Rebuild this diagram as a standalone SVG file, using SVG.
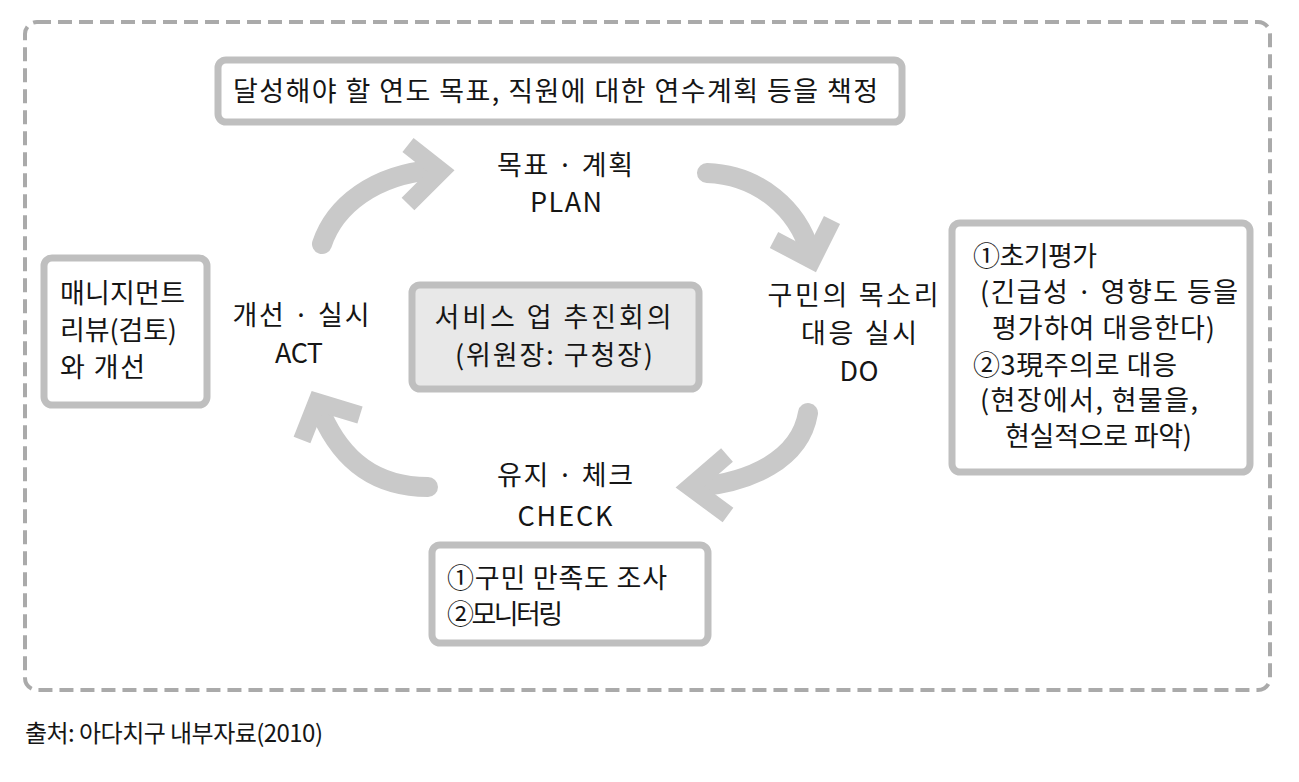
<svg xmlns="http://www.w3.org/2000/svg" width="1299" height="782" viewBox="0 0 1299 782">
<style>
.t{font-family:"Noto Sans CJK KR","Noto Sans",sans-serif;font-size:27px;fill:#151515}
.m{text-anchor:middle}
.box{fill:#fff;stroke:#bfbfbf;stroke-width:7}
.arc{fill:none;stroke:#c9c9c9;stroke-width:20;stroke-linecap:round}
.hd{fill:none;stroke:#c9c9c9;stroke-width:18;stroke-linecap:butt;stroke-linejoin:miter}
</style>
<rect x="0" y="0" width="1299" height="782" fill="#fff"/>
<rect id="frame" x="25" y="22" width="1245" height="668" rx="12" fill="none" stroke="#aaaaaa" stroke-width="4" stroke-dasharray="14 7"/>
<g id="connectors">
<path class="arc" d="M 322 244 C 335 205 375 175 432 170"/>
<polyline class="hd" points="408,145 441,171 408,204"/>
<path class="arc" d="M 707 173 C 760 175 798 210 810 252"/>
<polyline class="hd" points="774,240 812,260 832,220"/>
<path class="arc" d="M 808 413 C 800 460 750 482 698 487"/>
<polyline class="hd" points="727,455 690,487 728,515"/>
<path class="arc" d="M 428 487 C 375 487 342 460 322 415"/>
<polyline class="hd" points="302,440 317,402 360,415"/>
</g>
<g id="goal">
<rect class="box" x="218" y="60" width="684" height="62" rx="8"/>
<text class="t" x="233" y="101" textLength="645" lengthAdjust="spacing">달성해야 할 연도 목표, 직원에 대한 연수계획 등을 책정</text>
</g>
<g id="plan">
<text class="t m" x="565" y="175" textLength="136" lengthAdjust="spacing">목표 · 계획</text>
<text class="t m" x="566" y="212" textLength="72" lengthAdjust="spacing">PLAN</text>
</g>
<g id="do">
<text class="t m" x="853" y="305" textLength="171" lengthAdjust="spacing">구민의 목소리</text>
<text class="t m" x="859" y="343" textLength="116" lengthAdjust="spacing">대응 실시</text>
<text class="t m" x="859" y="381" textLength="39" lengthAdjust="spacing">DO</text>
</g>
<g id="do-detail">
<rect class="box" x="952" y="223" width="298" height="249" rx="8"/>
<text class="t" x="973" y="266" textLength="124" lengthAdjust="spacing">①초기평가</text>
<text class="t" x="980" y="302" textLength="258" lengthAdjust="spacing">(긴급성 · 영향도 등을</text>
<text class="t" x="992" y="338" textLength="223" lengthAdjust="spacing">평가하여 대응한다)</text>
<text class="t" x="973" y="375" textLength="204" lengthAdjust="spacing">②3現주의로 대응</text>
<text class="t" x="980" y="410" textLength="218" lengthAdjust="spacing">(현장에서, 현물을,</text>
<text class="t" x="1005" y="446" textLength="187" lengthAdjust="spacing">현실적으로 파악)</text>
</g>
<g id="act-detail">
<rect class="box" x="44" y="258" width="163" height="147" rx="8"/>
<text class="t" x="60" y="303" textLength="125" lengthAdjust="spacing">매니지먼트</text>
<text class="t" x="60" y="340" textLength="117" lengthAdjust="spacing">리뷰(검토)</text>
<text class="t" x="60" y="377" textLength="85" lengthAdjust="spacing">와 개선</text>
</g>
<g id="act">
<text class="t m" x="301" y="325" textLength="137" lengthAdjust="spacing">개선 · 실시</text>
<text class="t m" x="299" y="363" textLength="48" lengthAdjust="spacing">ACT</text>
</g>
<g id="center">
<rect x="412" y="285" width="287" height="104" rx="8" fill="#e8e8e8" stroke="#bfbfbf" stroke-width="7"/>
<text class="t m" x="553" y="327" textLength="237" lengthAdjust="spacing">서비스 업 추진회의</text>
<text class="t m" x="554" y="365" textLength="198" lengthAdjust="spacing">(위원장: 구청장)</text>
</g>
<g id="check">
<text class="t m" x="565" y="485" textLength="136" lengthAdjust="spacing">유지 · 체크</text>
<text class="t m" x="565" y="526" textLength="95" lengthAdjust="spacing">CHECK</text>
</g>
<g id="check-detail">
<rect class="box" x="432" y="545" width="276" height="98" rx="8"/>
<text class="t" x="447" y="588" textLength="220" lengthAdjust="spacing">①구민 만족도 조사</text>
<text class="t" x="447" y="624" textLength="116" lengthAdjust="spacing">②모니터링</text>
</g>
<text class="t" x="25" y="742" style="font-size:24px" textLength="298" lengthAdjust="spacing">출처: 아다치구 내부자료(2010)</text>
</svg>
